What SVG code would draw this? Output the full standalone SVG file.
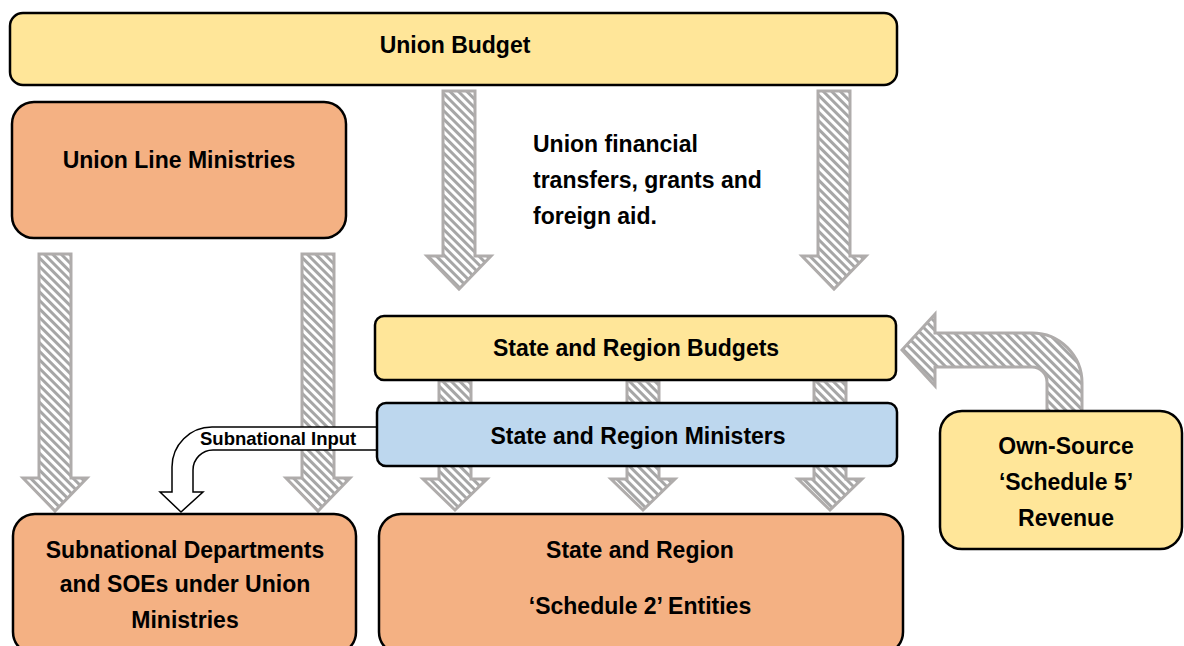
<svg xmlns="http://www.w3.org/2000/svg" width="1184" height="646" viewBox="0 0 1184 646">
<defs>
<pattern id="hatch" patternUnits="userSpaceOnUse" width="6" height="6" patternTransform="rotate(-45)">
<rect x="0" y="0" width="6" height="6" fill="#ffffff"/>
<rect x="0" y="0" width="3" height="6" fill="#a6a6a6"/>
</pattern>
</defs>
<style>
.ha{fill:url(#hatch);stroke:#afacab;stroke-width:3;stroke-linejoin:miter}
.box{stroke:#000;stroke-width:2.5}
.y{fill:#ffe699}.o{fill:#f4b183}.b{fill:#bdd7ee}
text{font-family:"Liberation Sans",Arial,sans-serif;font-weight:bold;font-size:23px;fill:#000}
.c{text-anchor:middle}
</style>
<g id="connectors">
<path class="ha" d="M443,91 H475 V256 H491 L459,289 L427,256 H443 Z"/>
<path class="ha" d="M818,91 H850 V256 H866 L834,289 L802,256 H818 Z"/>
<path class="ha" d="M39,254 H71 V478 H87 L55,511 L23,478 H39 Z"/>
<path class="ha" d="M302,254 H334 V478 H350 L318,511 L286,478 H302 Z"/>
<path class="ha" d="M439,381 H471 V479 H487 L455,510 L423,479 H439 Z"/>
<path class="ha" d="M627,381 H659 V479 H675 L643,510 L611,479 H627 Z"/>
<path class="ha" d="M814,381 H846 V479 H862 L830,510 L798,479 H814 Z"/>
<path class="ha" d="M902,350 L935,314 V333 H1032 A50,50 0 0 1 1082,383 V412 H1047 V382 A15,15 0 0 0 1032,367 H935 V386 Z"/>
<path d="M378,427 H212 A40,40 0 0 0 172,467 V492 H160 L181,512 L203,492 H193 V470 A20,20 0 0 1 213,450 H378 Z" fill="#ffffff" stroke="#000" stroke-width="1.5"/>
<text x="200" y="445" style="font-size:18.5px">Subnational Input</text>
</g>
<g id="union-budget">
<rect class="box y" x="10" y="13" width="887" height="72" rx="13"/>
<text class="c" x="455" y="53">Union Budget</text>
</g>
<g id="union-line-ministries">
<rect class="box o" x="12" y="102" width="334" height="136" rx="22"/>
<text class="c" x="179" y="168">Union Line Ministries</text>
</g>
<g id="transfers-label">
<text x="533" y="152">Union financial</text>
<text x="533" y="188">transfers, grants and</text>
<text x="533" y="224">foreign aid.</text>
</g>
<g id="state-region-budgets">
<rect class="box y" x="375" y="316" width="521" height="64" rx="9"/>
<text class="c" x="636" y="356">State and Region Budgets</text>
</g>
<g id="state-region-ministers">
<rect class="box b" x="377" y="403" width="520" height="63" rx="9"/>
<text class="c" x="638" y="444">State and Region Ministers</text>
</g>
<g id="own-source">
<rect class="box y" x="940" y="411" width="242" height="138" rx="22"/>
<text class="c" x="1066" y="454">Own-Source</text>
<text class="c" x="1066" y="490">‘Schedule 5’</text>
<text class="c" x="1066" y="526">Revenue</text>
</g>
<g id="subnational-departments">
<rect class="box o" x="13" y="514" width="343" height="140" rx="22"/>
<text class="c" x="185" y="558">Subnational Departments</text>
<text class="c" x="185" y="592">and SOEs under Union</text>
<text class="c" x="185" y="628">Ministries</text>
</g>
<g id="schedule2-entities">
<rect class="box o" x="379" y="514" width="524" height="140" rx="22"/>
<text class="c" x="640" y="558">State and Region</text>
<text class="c" x="640" y="614">‘Schedule 2’ Entities</text>
</g>
</svg>
